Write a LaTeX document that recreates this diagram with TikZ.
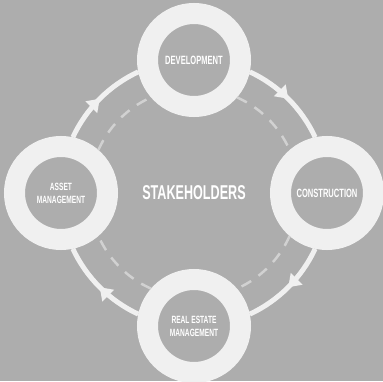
\documentclass[tikz,border=0pt]{standalone}
\usepackage{fontspec}
\usepackage{tikz}
\newfontfamily\condfont[FakeStretch=0.63]{Liberation Sans}
\definecolor{bg-gray}{gray}{0.68}
\definecolor{ring-white}{gray}{0.94}
\definecolor{dash-gray}{gray}{0.82}
\usetikzlibrary{arrows.meta,decorations.markings}

\begin{document}
\begin{tikzpicture}[x=1pt,y=1pt]
    \tikzstyle{stage}=[circle,draw=ring-white,line width=21pt,fill=bg-gray,
        minimum size=93pt,inner sep=0pt,text=white,align=center,font=\condfont\bfseries]
    \tikzstyle{flow}=[draw=ring-white,line width=5pt,postaction={decorate},
        decoration={markings,mark=at position 0.5 with
            {\arrow[ring-white]{Triangle[width=16pt,length=12pt]}}}]
    \tikzstyle{backflow}=[draw=dash-gray,line width=2.5pt,dash pattern=on 11pt off 9pt]

    \useasboundingbox[fill=bg-gray] (0,0) rectangle (383,381);

    \node[text=white,font=\condfont\bfseries\fontsize{20}{22}\selectfont] (hub) at (194,188) {STAKEHOLDERS};

    \node[stage,font=\condfont\bfseries\fontsize{12}{14}\selectfont] (dev) at (194,321) {DEVELOPMENT};
    \node[stage,font=\condfont\bfseries\fontsize{12}{14}\selectfont] (con) at (327,188) {CONSTRUCTION};
    \node[stage,font=\condfont\bfseries\fontsize{10.5}{13}\selectfont] (rem) at (194,55) {REAL ESTATE\\MANAGEMENT};
    \node[stage,font=\condfont\bfseries\fontsize{10.5}{13}\selectfont] (asset) at (61,188) {ASSET\\MANAGEMENT};

    % outer cycle
    \draw[flow] (asset.78) to[out=65,in=205,looseness=0.88] (dev.192);
    \draw[flow] (dev.348) to[out=-25,in=115,looseness=0.88] (con.102);
    \draw[flow] (con.258) to[out=-115,in=25,looseness=0.88] (rem.12);
    \draw[flow] (rem.168) to[out=155,in=295,looseness=0.88] (asset.282);

    % inner cycle
    \draw[backflow] (asset.49) to[out=66,in=204,looseness=0.88] (dev.221);
    \draw[backflow] (dev.319) to[out=-24,in=114,looseness=0.88] (con.131);
    \draw[backflow] (con.229) to[out=-114,in=24,looseness=0.88] (rem.41);
    \draw[backflow] (rem.139) to[out=156,in=294,looseness=0.88] (asset.311);
\end{tikzpicture}
\end{document}
